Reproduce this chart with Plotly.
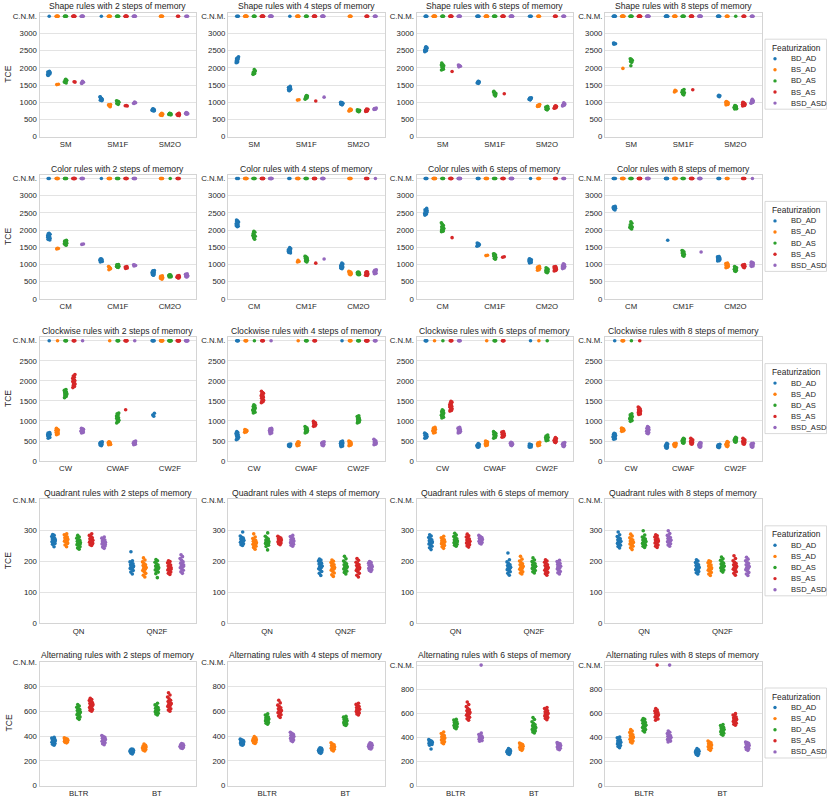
import plotly.graph_objects as go

N = None  # run that Could Not Master the rule -> drawn on the "C.N.M." row

HUES = ["BD_AD", "BS_AD", "BD_AS", "BS_AS", "BSD_ASD"]
COLORS = ["#1f77b4", "#ff7f0e", "#2ca02c", "#d62728", "#9467bd"]
RULES = ["Shape", "Color", "Clockwise", "Quadrant", "Alternating"]
STEPS = [2, 4, 6, 8]

shape_cats = ["SM", "SM1F", "SM2O"]
color_cats = ["CM", "CM1F", "CM2O"]
clock_cats = ["CW", "CWAF", "CW2F"]
quad_cats = ["QN", "QN2F"]
alt_cats = ["BLTR", "BT"]

cnm_values = [3500, 3500, 3000, 400, 1000]
ytick_values = [
    [0, 500, 1000, 1500, 2000, 2500, 3000],
    [0, 500, 1000, 1500, 2000, 2500, 3000],
    [0, 500, 1000, 1500, 2000, 2500],
    [0, 100, 200, 300],
    [0, 200, 400, 600, 800],
]

# ---- values: [category][hue] -> list of TCE (N = C.N.M.) ----
shape_2 = [
    [[N, 1790, 1822, 1848, 1883, 1900, 1812, 1861, 1835, 1778, 1870, 1843, 1806],
     [N, N, N, N, N, N, 1515, 1527],
     [N, N, N, N, N, 1562, 1598, 1643, 1671, 1581, 1622, 1655, 1594, 1633],
     [N, N, N, N, N, N, N, 1588, 1596],
     [N, N, N, N, N, N, 1545, 1582, 1611, 1561]],
    [[N, 1062, 1093, 1118, 1152, 1101, 1137, 1074, 1109, 1160, 1046],
     [N, N, N, N, N, 882, 911, 938, 901, 924, 871],
     [N, N, N, N, N, 941, 968, 1002, 1031, 962, 1012, 984, 1045],
     [N, N, N, N, N, N, N, 894, 906, 899],
     [N, N, N, N, N, N, 966, 989, 1006, 974]],
    [[746, 771, 789, 811, 762, 781, 799, 754, 776, 794],
     [N, N, N, N, N, 616, 641, 659, 681, 624, 651, 668, 636],
     [636, 651, 664, 679, 646, 661, 671, 641, 656],
     [N, N, 614, 636, 654, 676, 621, 646, 664, 629, 681],
     [N, N, N, 656, 671, 689, 701, 664, 679]],
]
shape_4 = [
    [[N, N, N, 2162, 2201, 2243, 2279, 2322, 2188, 2261, 2302, 2228, 2151, 2270],
     [N, N, N, N, N, N, N, N],
     [N, N, N, N, 1812, 1838, 1881, 1919, 1951, 1862, 1899, 1829],
     [N, N, N, N, N, N, N, N],
     [N, N, N, N, N, N, N, N]],
    [[N, 1341, 1372, 1398, 1431, 1462, 1352, 1389, 1421, 1378, 1444, 1336],
     [N, N, N, N, N, N, 1064, 1076],
     [N, N, N, N, 1091, 1122, 1148, 1181, 1199, 1112, 1139, 1166],
     [N, N, N, N, N, N, N, 1040],
     [N, N, N, N, N, N, N, 1150]],
    [[926, 944, 966, 984, 1001, 934, 956, 974, 991, 949],
     [N, N, N, N, 746, 761, 774, 791, 801, 754, 769, 786],
     [726, 741, 754, 771, 779, 736, 751, 764, 746],
     [N, N, N, N, 736, 756, 774, 796, 744, 766, 784, 801],
     [N, N, N, N, 791, 806, 819, 831, 799, 814]],
]
shape_6 = [
    [[N, N, N, N, 2471, 2502, 2538, 2581, 2612, 2489, 2561, 2598, 2522],
     [N, N, N, N, N, N, N, N],
     [N, N, N, N, 1941, 1979, 2021, 2062, 2098, 2141, 1962, 2038, 2081, 2002],
     [N, N, N, N, N, N, N, 1895],
     [N, N, N, N, N, N, 2031, 2049, 2071, 2082]],
    [[N, N, N, N, N, 1551, 1569, 1592, 1611, 1562, 1601, 1579],
     [N, N, N, N, N, N, N, N],
     [N, N, N, N, N, 1186, 1219, 1252, 1279, 1321, 1201, 1266, 1298],
     [N, N, N, N, N, N, N, 1250],
     [N, N, N, N, N, N, N, N]],
    [[N, N, N, 1071, 1084, 1101, 1116, 1129, 1079, 1096, 1109, 1124],
     [N, N, N, N, 876, 894, 916, 934, 886, 904, 926],
     [781, 799, 821, 839, 861, 884, 791, 811, 829, 851, 869, 816],
     [N, N, N, N, 826, 844, 866, 884, 899, 836, 854, 876],
     [N, N, N, N, 896, 914, 936, 954, 984, 906, 944]],
]
shape_8 = [
    [[N, N, N, N, N, N, 2688, 2701, 2714, 2726],
     [N, N, N, N, N, N, N, N, 1985],
     [N, N, N, N, N, 2161, 2189, 2222, 2251, 2268, 2199, 2062],
     [N, N, N, N, N, N, N, N],
     [N, N, N, N, N, N, N, N]],
    [[N, N, N, N, N, N, N, N],
     [N, N, N, N, N, N, 1301, 1329, 1352],
     [N, N, N, N, N, 1216, 1251, 1279, 1311, 1339, 1371, 1231, 1294],
     [N, N, N, N, N, N, N, 1365],
     [N, N, N, N, N, N, N, N]],
    [[N, N, N, N, N, 1164, 1181, 1189, 1201],
     [N, N, N, N, 926, 944, 966, 984, 1006, 1024, 936, 974, 996, 956],
     [N, 806, 824, 846, 864, 886, 909, 816, 834, 856, 874, 896, 841],
     [N, N, N, N, 896, 914, 936, 954, 976, 999, 906, 924, 946, 964, 986, 941],
     [N, N, N, N, 971, 994, 1021, 1044, 1084, 986, 1009, 1061]],
]
color_2 = [
    [[N, N, 1711, 1752, 1789, 1822, 1849, 1881, 1909, 1731, 1769, 1801, 1839, 1871, 1894, 1761],
     [N, N, N, N, N, N, 1454, 1466, 1471],
     [N, N, N, N, N, 1561, 1589, 1621, 1652, 1679, 1701, 1576, 1604, 1636, 1664, 1691, 1646],
     [N, N, N, N, N, N, N, N],
     [N, N, N, N, N, N, 1584, 1596]],
    [[N, 1076, 1094, 1116, 1134, 1156, 1169, 1086, 1104, 1126, 1144],
     [N, N, N, N, N, N, 851, 879, 921, 944],
     [N, N, N, N, N, 911, 929, 951, 969, 991, 1001, 921, 944, 966, 984],
     [N, N, N, N, N, N, 886, 899, 916, 929, 944],
     [N, N, N, N, N, N, 956, 969, 986, 994]],
    [[686, 704, 726, 744, 766, 784, 806, 824, 696, 734, 776, 814],
     [N, N, N, N, N, 576, 594, 616, 634, 656, 669, 586, 604, 626, 644],
     [N, 636, 649, 666, 679, 696, 699, 646, 659, 676, 689],
     [N, N, N, N, N, 606, 619, 636, 649, 666, 679, 616, 629, 646, 659],
     [636, 654, 676, 694, 716, 729, 646, 664, 686, 704]],
]
color_4 = [
    [[N, N, N, 2096, 2129, 2166, 2199, 2236, 2269, 2291, 2111, 2149, 2186, 2219, 2256],
     [N, N, N, N, N, N, N, N],
     [N, N, N, N, N, 1736, 1779, 1821, 1859, 1901, 1939, 1966, 1841],
     [N, N, N, N, N, N, N, N],
     [N, N, N, N, N, N, N, N]],
    [[N, N, 1336, 1359, 1386, 1409, 1436, 1459, 1491, 1351, 1374, 1401, 1424, 1451],
     [N, N, N, N, N, N, 1071, 1089, 1121],
     [N, N, N, N, N, 1071, 1094, 1121, 1144, 1171, 1194, 1221, 1236, 1086, 1109, 1161, 1204],
     [N, N, N, N, N, N, N, 1040],
     [N, N, N, N, N, N, N, 1160]],
    [[876, 894, 916, 934, 956, 974, 996, 1014, 1041, 906, 944, 986],
     [N, N, N, N, N, 701, 714, 731, 744, 761, 774, 791, 799, 726, 754],
     [701, 714, 731, 744, 761, 774, 781, 711, 734, 756],
     [N, N, N, N, N, 681, 699, 721, 739, 761, 779, 791, 691, 729, 771],
     [N, 731, 749, 771, 789, 811, 829, 846, 741, 779, 821]],
]
color_6 = [
    [[N, N, N, N, 2436, 2469, 2501, 2529, 2561, 2589, 2631, 2451, 2484, 2516, 2544, 2576],
     [N, N, N, N, N, N, N, N],
     [N, N, N, N, 1951, 1979, 2011, 2039, 2071, 2099, 2131, 2169, 2211, 1966, 2024, 2056, 2084, 2001],
     [N, N, N, N, N, N, N, 1780],
     [N, N, N, N, N, N, N, N]],
    [[N, N, N, N, 1531, 1549, 1571, 1589, 1611, 1624, 1561, 1599],
     [N, N, N, N, N, N, 1259, 1271],
     [N, N, N, N, N, 1151, 1174, 1201, 1224, 1251, 1274, 1301, 1314, 1191, 1239],
     [N, N, N, N, N, N, 1209, 1226],
     [N, N, N, N, N, N, N, N]],
    [[N, 1046, 1059, 1076, 1089, 1106, 1119, 1136, 1149, 1166, 1071, 1099, 1131],
     [N, N, N, N, 831, 849, 871, 889, 911, 929, 946, 861, 899, 921],
     [761, 774, 791, 804, 821, 834, 851, 864, 881, 904, 801, 839],
     [N, N, N, N, 811, 824, 841, 854, 871, 884, 901, 914, 931, 944, 851, 879],
     [N, N, N, N, 881, 899, 921, 939, 961, 979, 1001, 1019, 931, 969]],
]
color_8 = [
    [[N, N, N, N, N, 2586, 2609, 2636, 2659, 2681, 2694, 2621, 2649],
     [N, N, N, N, N, N, N, N],
     [N, N, N, N, N, 2031, 2059, 2091, 2119, 2151, 2199, 2241, 2079],
     [N, N, N, N, N, N, N, N],
     [N, N, N, N, N, N, N, N]],
    [[N, N, N, N, N, N, N, 1705],
     [N, N, N, N, N, N, N, N],
     [N, N, N, N, N, 1241, 1264, 1291, 1314, 1341, 1364, 1391, 1409, 1301, 1329],
     [N, N, N, N, N, N, N, N],
     [N, N, N, N, N, N, N, 1365]],
    [[N, N, N, N, 1101, 1114, 1131, 1144, 1161, 1174, 1191, 1204, 1221, 1234, 1151, 1186],
     [N, N, N, N, 906, 919, 936, 949, 966, 979, 996, 1009, 1026, 1039, 961, 989],
     [801, 814, 831, 844, 861, 874, 891, 904, 921, 939, 851, 879],
     [N, N, N, N, N, 906, 924, 946, 964, 986, 999, 936, 976],
     [N, 946, 959, 976, 989, 1006, 1019, 1041, 1054, 1069, 1001]],
]
clock_2 = [
    [[N, 571, 589, 611, 624, 641, 654, 671, 684, 701, 714, 631, 659],
     [N, 656, 674, 696, 714, 736, 754, 776, 794, 819, 706, 744, 766],
     [N, N, N, N, 1581, 1609, 1636, 1659, 1681, 1699, 1721, 1739, 1766, 1784, 1651, 1689, 1711, 1729],
     [N, N, N, N, 1831, 1859, 1891, 1919, 1951, 1974, 2001, 2029, 2061, 2089, 2121, 2159, 1941, 1989, 2011, 1901],
     [N, 701, 714, 731, 744, 761, 774, 791, 804, 819, 741, 769, 751]],
    [[381, 394, 411, 424, 441, 454, 471, 484, 401, 429, 459, 416],
     [N, 406, 419, 436, 449, 466, 479, 416, 444, 461, 439],
     [N, N, N, N, 951, 979, 1001, 1019, 1041, 1059, 1081, 1099, 1121, 1149, 1181, 1199, 1051, 1069],
     [N, N, N, N, N, N, 1280],
     [N, 406, 419, 436, 449, 466, 479, 501, 426, 444, 461]],
    [[N, N, N, N, N, 1116, 1149, 1194],
     [N, N, N, N, N, N, N, N],
     [N, N, N, N, N, N, N, N],
     [N, N, N, N, N, N, N, N],
     [N, N, N, N, N, N, N, N]],
]
clock_4 = [
    [[N, N, N, N, 531, 554, 576, 594, 616, 634, 656, 674, 696, 714, 736, 601, 639, 661],
     [N, N, N, N, 716, 729, 746, 759, 776, 789, 741, 756],
     [N, 1201, 1219, 1241, 1259, 1281, 1299, 1321, 1339, 1361, 1379, 1404, 1271, 1309, 1291],
     [N, N, N, N, 1456, 1479, 1501, 1519, 1546, 1569, 1591, 1609, 1631, 1649, 1671, 1689, 1711, 1739, 1601, 1651],
     [N, 681, 699, 716, 729, 746, 759, 776, 789, 806, 819, 741, 769]],
    [[361, 369, 381, 389, 401, 409, 419, 426],
     [N, 381, 394, 411, 424, 441, 454, 471, 484, 419, 446],
     [N, N, N, N, 701, 719, 741, 759, 781, 799, 821, 839, 861, 751, 789, 771],
     [N, N, N, N, 866, 879, 896, 909, 926, 939, 956, 969, 989, 931],
     [381, 394, 411, 424, 441, 454, 471, 484, 419, 446]],
    [[N, 361, 374, 391, 404, 421, 434, 451, 464, 481, 499, 411, 444],
     [N, N, N, N, 381, 394, 411, 424, 441, 454, 471, 489, 501, 431],
     [N, N, N, N, 951, 969, 991, 1009, 1031, 1049, 1071, 1089, 1111, 1129, 1001, 1039],
     [N, N, N, N, N, N, N, N],
     [N, N, N, N, 406, 419, 436, 449, 466, 479, 501, 519, 544, 469]],
]
clock_6 = [
    [[N, N, N, N, 571, 584, 601, 614, 631, 644, 661, 679, 696, 626],
     [N, 701, 714, 731, 744, 761, 774, 791, 804, 821, 844, 751, 769],
     [N, 1076, 1094, 1116, 1134, 1156, 1174, 1196, 1214, 1236, 1254, 1279, 1146, 1184, 1226],
     [N, N, N, N, 1246, 1264, 1286, 1304, 1326, 1344, 1366, 1384, 1406, 1424, 1446, 1469, 1489, 1356],
     [N, N, N, N, 701, 714, 731, 744, 761, 774, 791, 804, 821, 844, 741, 779]],
    [[346, 354, 366, 374, 386, 394, 406, 419, 439, 381],
     [N, 386, 399, 416, 429, 446, 459, 476, 489, 499, 441],
     [N, N, N, N, 571, 589, 611, 629, 651, 669, 691, 709, 734, 621, 659, 681],
     [N, N, N, N, 596, 609, 626, 639, 656, 669, 686, 699, 721, 734, 651, 679],
     [386, 399, 416, 429, 446, 459, 469, 426]],
    [[N, 346, 354, 366, 374, 386, 394, 406, 414, 426, 381],
     [N, 381, 394, 411, 424, 441, 454, 466, 419],
     [N, 506, 519, 536, 549, 566, 579, 596, 609, 626, 649, 561, 589],
     [461, 474, 491, 504, 521, 534, 551, 564, 586, 509],
     [361, 374, 391, 404, 421, 434, 451, 464]],
]
clock_8 = [
    [[N, 546, 559, 576, 589, 606, 619, 636, 649, 666, 679, 694, 611],
     [N, N, N, N, 741, 749, 761, 769, 781, 789, 801, 809, 821, 776],
     [N, 991, 1009, 1031, 1049, 1071, 1089, 1111, 1129, 1151, 1179, 1041, 1059, 1081, 1101],
     [N, 1161, 1174, 1191, 1204, 1221, 1234, 1251, 1264, 1281, 1299, 1326, 1349, 1216, 1244],
     [681, 694, 711, 724, 741, 754, 771, 784, 801, 819, 841, 859]],
    [[321, 334, 351, 364, 381, 394, 411, 424, 441, 369],
     [361, 374, 391, 399, 411, 419, 436, 444],
     [446, 459, 476, 489, 506, 519, 536, 549, 569, 501],
     [421, 434, 451, 464, 481, 494, 511, 524, 546, 569, 471, 499],
     [346, 359, 376, 389, 406, 419, 436, 449, 461, 394]],
    [[336, 344, 356, 364, 376, 389, 406, 419],
     [361, 374, 391, 404, 421, 434, 451, 469, 486, 409],
     [471, 484, 501, 514, 531, 544, 561, 574, 596, 519, 541, 509],
     [421, 434, 451, 464, 481, 494, 511, 524, 546, 569, 471, 499],
     [346, 359, 376, 389, 406, 419, 436, 444]],
]
quad_2 = [
    [[248, 256, 259, 262, 264, 266, 268, 270, 271, 273, 275, 278, 281, 285, 288, 267, 263],
     [248, 254, 259, 263, 266, 268, 270, 272, 274, 277, 280, 284, 287, 290, 269, 261],
     [240, 244, 248, 252, 255, 258, 260, 262, 264, 266, 269, 272, 276, 280, 285, 257, 263],
     [252, 255, 258, 261, 263, 265, 267, 269, 271, 274, 277, 281, 285, 290, 266, 260],
     [243, 247, 251, 254, 257, 259, 261, 263, 265, 267, 270, 273, 276, 280, 262, 256]],
    [[160, 166, 171, 175, 178, 181, 184, 186, 188, 190, 193, 196, 199, 203, 232, 183, 187],
     [150, 156, 162, 167, 171, 175, 178, 181, 184, 187, 190, 194, 199, 205, 212, 180],
     [148, 161, 166, 170, 173, 176, 179, 181, 183, 186, 189, 193, 198, 203, 207, 178],
     [158, 162, 166, 170, 173, 176, 178, 180, 183, 186, 189, 192, 196, 200, 203, 175],
     [162, 167, 172, 176, 180, 183, 186, 189, 192, 195, 199, 204, 210, 216, 222, 185]],
]
quad_4 = [
    [[252, 255, 258, 261, 263, 265, 267, 269, 271, 273, 276, 279, 283, 296, 262, 268],
     [240, 246, 250, 253, 256, 258, 260, 262, 264, 266, 268, 271, 275, 280, 290, 259],
     [238, 249, 253, 256, 259, 261, 263, 265, 267, 270, 273, 277, 282, 293, 264, 260],
     [255, 258, 260, 262, 264, 266, 268, 270, 272, 274, 276, 279, 282, 267, 263],
     [250, 253, 256, 259, 261, 263, 265, 267, 269, 271, 274, 277, 281, 285, 264]],
    [[155, 162, 168, 173, 177, 180, 183, 186, 189, 192, 195, 198, 202, 205, 208, 185],
     [152, 157, 163, 168, 172, 175, 178, 181, 184, 187, 190, 193, 197, 201, 205, 179],
     [160, 165, 169, 173, 176, 179, 182, 184, 187, 190, 193, 197, 202, 209, 217, 181],
     [150, 156, 162, 167, 171, 175, 178, 181, 184, 187, 190, 194, 198, 204, 210, 177],
     [168, 171, 174, 176, 178, 180, 182, 184, 186, 188, 190, 192, 195, 198, 200, 183]],
]
quad_6 = [
    [[239, 245, 250, 254, 257, 260, 262, 264, 266, 268, 271, 274, 278, 283, 287, 261],
     [243, 248, 252, 255, 258, 260, 262, 264, 266, 268, 271, 274, 277, 282, 263],
     [250, 253, 256, 259, 261, 263, 265, 267, 269, 271, 274, 277, 281, 286, 292, 264],
     [247, 251, 255, 258, 260, 262, 264, 266, 268, 270, 273, 276, 280, 284, 289, 265],
     [257, 260, 262, 264, 266, 268, 270, 272, 274, 276, 278, 281, 285, 269, 271]],
    [[156, 162, 167, 171, 174, 177, 180, 182, 184, 187, 190, 194, 199, 206, 228, 181],
     [160, 163, 167, 171, 175, 178, 181, 184, 187, 190, 193, 197, 202, 208, 217, 185],
     [163, 167, 171, 175, 178, 181, 183, 185, 187, 190, 193, 196, 200, 205, 212, 184],
     [156, 161, 165, 169, 172, 175, 178, 181, 184, 187, 190, 194, 198, 202, 206, 179],
     [160, 164, 168, 172, 176, 179, 182, 185, 188, 191, 194, 197, 200, 204, 183]],
]
quad_8 = [
    [[244, 249, 253, 256, 259, 262, 264, 266, 268, 271, 274, 277, 281, 287, 296, 265],
     [239, 245, 250, 254, 257, 259, 261, 263, 265, 267, 270, 273, 277, 283, 289, 262],
     [246, 250, 253, 256, 259, 261, 263, 265, 267, 270, 273, 276, 280, 286, 300, 264],
     [246, 250, 254, 257, 260, 263, 265, 267, 269, 271, 274, 277, 280, 284, 287, 268],
     [250, 254, 258, 261, 264, 266, 268, 270, 272, 275, 278, 281, 285, 291, 300, 269]],
    [[160, 164, 168, 171, 174, 177, 180, 182, 184, 187, 190, 193, 197, 202, 206, 179],
     [155, 160, 165, 169, 172, 175, 178, 180, 183, 186, 189, 192, 196, 200, 203, 177],
     [166, 170, 173, 176, 179, 182, 184, 186, 189, 192, 195, 199, 204, 209, 215, 185],
     [156, 162, 167, 171, 175, 178, 181, 184, 187, 190, 194, 198, 203, 210, 219, 186],
     [155, 160, 165, 170, 174, 178, 181, 184, 187, 190, 194, 198, 203, 208, 214, 183]],
]
alt_2 = [
    [[325, 333, 340, 345, 350, 354, 358, 362, 366, 370, 374, 379, 384, 390, 356],
     [345, 349, 352, 355, 358, 361, 364, 367, 370, 373, 376, 380, 385, 360],
     [535, 545, 555, 565, 573, 580, 587, 594, 600, 607, 614, 622, 632, 643, 655, 590],
     [600, 608, 615, 622, 630, 638, 645, 652, 658, 664, 670, 678, 687, 695, 705, 660],
     [330, 338, 345, 352, 358, 363, 368, 373, 378, 383, 389, 395, 405, 366]],
    [[255, 262, 267, 271, 274, 277, 280, 283, 286, 289, 292, 295, 279],
     [280, 286, 291, 295, 299, 303, 307, 311, 315, 320, 326, 335, 305],
     [570, 578, 585, 591, 597, 602, 607, 612, 618, 624, 631, 640, 652, 665, 605],
     [600, 610, 620, 630, 640, 648, 656, 664, 672, 680, 690, 702, 716, 732, 750, 660],
     [300, 304, 308, 311, 314, 317, 320, 323, 326, 330, 335, 340, 316]],
]
alt_4 = [
    [[325, 330, 335, 339, 343, 347, 350, 353, 356, 360, 364, 369, 375, 348],
     [340, 346, 351, 355, 359, 363, 367, 371, 375, 380, 386, 395, 365],
     [495, 503, 510, 516, 522, 528, 533, 538, 543, 548, 554, 561, 570, 580, 536],
     [550, 562, 572, 580, 588, 595, 601, 607, 613, 620, 628, 638, 650, 668, 690, 604],
     [355, 362, 369, 375, 381, 386, 391, 396, 401, 407, 414, 422, 430, 393]],
    [[260, 266, 271, 275, 279, 282, 285, 288, 291, 295, 300, 305, 283],
     [280, 287, 293, 298, 302, 306, 310, 314, 318, 323, 329, 336, 345, 308],
     [485, 492, 498, 503, 508, 513, 518, 523, 528, 533, 539, 546, 553, 560, 520],
     [570, 578, 586, 593, 599, 605, 611, 617, 623, 630, 638, 647, 656, 665, 615],
     [295, 300, 305, 309, 313, 317, 321, 325, 329, 334, 339, 345, 318]],
]
alt_6 = [
    [[303, 335, 340, 344, 348, 351, 354, 357, 360, 364, 368, 373, 381, 355],
     [347, 356, 364, 371, 377, 383, 389, 395, 401, 407, 414, 422, 432, 444, 398],
     [472, 480, 487, 493, 498, 503, 508, 513, 518, 524, 530, 537, 544, 550, 510],
     [542, 555, 566, 575, 583, 591, 598, 605, 612, 620, 629, 640, 655, 672, 694, 610],
     [N, 367, 373, 379, 384, 389, 393, 397, 401, 405, 410, 416, 424, 436, 399]],
    [[258, 264, 269, 273, 277, 280, 283, 286, 289, 293, 298, 306, 281],
     [292, 299, 305, 310, 315, 319, 323, 327, 331, 336, 341, 347, 353, 321],
     [436, 445, 453, 460, 466, 472, 478, 484, 490, 497, 505, 515, 530, 548, 564, 475],
     [547, 556, 564, 571, 578, 585, 592, 599, 606, 613, 621, 630, 639, 647, 598],
     [297, 304, 310, 315, 320, 324, 328, 332, 336, 341, 346, 351, 356, 326]],
]
alt_8 = [
    [[314, 324, 332, 339, 345, 350, 355, 360, 365, 371, 378, 387, 396, 403, 357],
     [353, 362, 370, 377, 384, 390, 396, 402, 408, 414, 421, 430, 441, 452, 464, 399],
     [444, 455, 465, 474, 482, 489, 496, 503, 510, 517, 524, 532, 541, 549, 556, 500],
     [N, 542, 552, 561, 569, 576, 582, 588, 594, 600, 606, 612, 619, 627, 639, 590],
     [N, 361, 369, 376, 382, 388, 393, 398, 403, 409, 415, 422, 431, 442, 453, 400]],
    [[250, 257, 263, 268, 272, 276, 280, 284, 288, 292, 297, 306, 279],
     [292, 301, 309, 315, 321, 326, 331, 336, 341, 347, 354, 361, 369, 328],
     [417, 426, 434, 441, 447, 453, 459, 465, 471, 477, 484, 491, 499, 506, 460],
     [500, 509, 517, 524, 531, 537, 543, 549, 555, 562, 569, 577, 586, 597, 545],
     [292, 300, 307, 313, 318, 323, 328, 333, 338, 344, 350, 356, 361, 325]],
]

row_cats = [shape_cats, color_cats, clock_cats, quad_cats, alt_cats]
row_data = [
    [shape_2, shape_4, shape_6, shape_8],
    [color_2, color_4, color_6, color_8],
    [clock_2, clock_4, clock_6, clock_8],
    [quad_2, quad_4, quad_6, quad_8],
    [alt_2, alt_4, alt_6, alt_8],
]

# ---- layout constants (pixels) ----
W, H = 831, 799
COL_LEFT = [39.5, 228.0, 416.5, 605.0]
COL_W = 156.5
ROW_TOP = [12.7, 174.9, 337.1, 499.3, 661.5]
ROW_H = 124.0
Y_TOP = [[3605] * 4, [3605] * 4, [3090] * 4, [402] * 4, [1003, 1003, 1030, 1030]]
HUE_OFFSETS = [-0.32, -0.16, 0.0, 0.16, 0.32]
TXT = "#262626"
FRAME = "#d4d4d4"
GRID = "#e3e3e3"
FONT = "Liberation Sans, Arial, sans-serif"


def px_x(p):
    return p / W


def px_y(p):
    return 1 - p / H


def jitter(i):
    # deterministic spread of points inside each dodge slot
    return (((i + 1) * 0.6180339887) % 1.0 - 0.5) * 0.05


fig = go.Figure()
layout = {}
annotations = []
shapes = []

for r in range(5):
    cats = row_cats[r]
    cnm = cnm_values[r]
    for c in range(4):
        idx = r * 4 + c + 1
        sfx = "" if idx == 1 else str(idx)
        data = row_data[r][c]
        for h in range(5):
            xs, ys = [], []
            for k in range(len(cats)):
                for i, v in enumerate(data[k][h]):
                    xs.append(k + HUE_OFFSETS[h] + jitter(i))
                    ys.append(cnm if v is None else v)
            fig.add_trace(go.Scatter(
                x=xs, y=ys, mode="markers", name=HUES[h], showlegend=False,
                xaxis="x" + sfx, yaxis="y" + sfx,
                marker=dict(size=3.6, color=COLORS[h], line=dict(width=0)),
            ))
        x0, x1 = COL_LEFT[c], COL_LEFT[c] + COL_W
        y0, y1 = ROW_TOP[r], ROW_TOP[r] + ROW_H
        layout["xaxis" + sfx] = dict(
            domain=[px_x(x0), px_x(x1)], anchor="y" + sfx,
            range=[-0.5, len(cats) - 0.5],
            tickmode="array", tickvals=list(range(len(cats))), ticktext=cats,
            showgrid=False, zeroline=False, showline=True, mirror=True,
            linecolor=FRAME, linewidth=1, ticks="",
            tickfont=dict(size=7.8, color=TXT, family=FONT), fixedrange=True,
        )
        tv = ytick_values[r] + [cnm]
        tt = [str(v) for v in ytick_values[r]] + ["C.N.M."]
        layout["yaxis" + sfx] = dict(
            domain=[px_y(y1), px_y(y0)], anchor="x" + sfx,
            range=[0, Y_TOP[r][c]],
            tickmode="array", tickvals=tv, ticktext=tt,
            showgrid=True, gridcolor=GRID, gridwidth=1,
            zeroline=False, showline=True, mirror=True,
            linecolor=FRAME, linewidth=1, ticks="",
            tickfont=dict(size=7.8, color=TXT, family=FONT), fixedrange=True,
        )
        annotations.append(dict(
            text=f"{RULES[r]} rules with {STEPS[c]} steps of memory",
            x=px_x((x0 + x1) / 2), y=px_y(y0 - 6.3), xref="paper", yref="paper",
            xanchor="center", yanchor="middle", showarrow=False,
            font=dict(size=8.6, color=TXT, family=FONT),
        ))
    # y-axis label
    annotations.append(dict(
        text="TCE", x=px_x(8.0), y=px_y(ROW_TOP[r] + ROW_H / 2),
        xref="paper", yref="paper", xanchor="center", yanchor="middle",
        textangle=-90, showarrow=False, font=dict(size=8.6, color=TXT, family=FONT),
    ))
    # legend box for this row
    top = ROW_TOP[r] + ROW_H / 2 - 35.5
    shapes.append(dict(
        type="rect", xref="paper", yref="paper",
        x0=px_x(765), x1=px_x(826.5), y0=px_y(top + 70), y1=px_y(top),
        line=dict(color="#cfcfcf", width=0.8), fillcolor="white", layer="above",
    ))
    annotations.append(dict(
        text="Featurization", x=px_x(796), y=px_y(top + 8.5),
        xref="paper", yref="paper", xanchor="center", yanchor="middle",
        showarrow=False, font=dict(size=8.4, color=TXT, family=FONT),
    ))
    for h in range(5):
        yc = top + 19.5 + 11.1 * h
        shapes.append(dict(
            type="circle", xref="paper", yref="paper",
            x0=px_x(773.3), x1=px_x(776.7), y0=px_y(yc + 1.7), y1=px_y(yc - 1.7),
            fillcolor=COLORS[h], line=dict(width=0), layer="above",
        ))
        annotations.append(dict(
            text=HUES[h], x=px_x(789), y=px_y(yc),
            xref="paper", yref="paper", xanchor="left", yanchor="middle",
            showarrow=False, font=dict(size=7.6, color=TXT, family=FONT),
        ))

fig.update_layout(
    width=W, height=H,
    margin=dict(l=0, r=0, t=0, b=0, autoexpand=False),
    plot_bgcolor="white", paper_bgcolor="white",
    showlegend=False,
    font=dict(family=FONT, color=TXT),
    annotations=annotations, shapes=shapes,
    **layout,
)

# the page is sized exactly to the window: drop the default body margin
fig.write_html(
    "out.html",
    config={"displayModeBar": False},
    post_script="document.body.style.margin='0';"
                "document.documentElement.style.overflow='hidden';",
)
